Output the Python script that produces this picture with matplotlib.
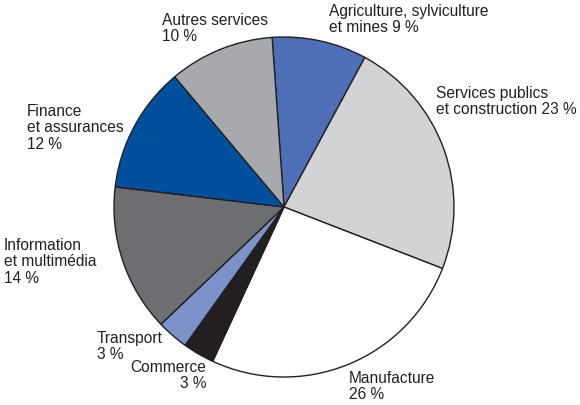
import matplotlib.pyplot as plt

plt.rcParams['font.family'] = ['Liberation Sans', 'DejaVu Sans']

# Sector shares, clockwise from the top
sectors = ['Agriculture, sylviculture\net mines', 'Services publics\net construction',
           'Manufacture', 'Commerce', 'Transport', 'Information\net multimédia',
           'Finance\net assurances', 'Autres services']
shares = [9, 23, 26, 3, 3, 14, 12, 10]
colors = ['#4e6fb5', '#d1d3d4', '#ffffff', '#231f20', '#7b93c8',
          '#6d6e71', '#00509e', '#a7a9ac']

W, H = 580, 405
fig = plt.figure(figsize=(W / 100, H / 100), dpi=100)
ax = fig.add_axes([0, 0, 1, 1])

ax.pie(shares, colors=colors, startangle=94, counterclock=False,
       center=(284, H - 207), radius=170, frame=True,
       wedgeprops=dict(edgecolor='#231f20', linewidth=1.0))
ax.set_xlim(0, W)
ax.set_ylim(0, H)
ax.set_aspect('equal')
ax.axis('off')


def label(x, y, s, ha='left'):
    # x, y: top-left (or top-right) of the text block in pixels from the top
    ax.text(x, H - y, s, ha=ha, va='top', multialignment=ha,
            fontsize=11.2, color='#231f20', linespacing=1.12)


label(329, 4, f'{sectors[0]} {shares[0]} %')
label(436, 86, f'{sectors[1]} {shares[1]} %')
label(349, 371, f'{sectors[2]}\n{shares[2]} %')
label(206, 360, f'{sectors[3]}\n{shares[3]} %', ha='right')
label(97, 331, f'{sectors[4]}\n{shares[4]} %')
label(4, 238, f'{sectors[5]}\n{shares[5]} %')
label(27, 104, f'{sectors[6]}\n{shares[6]} %')
label(162, 13, f'{sectors[7]}\n{shares[7]} %')

fig.savefig('out.png', dpi=100)
